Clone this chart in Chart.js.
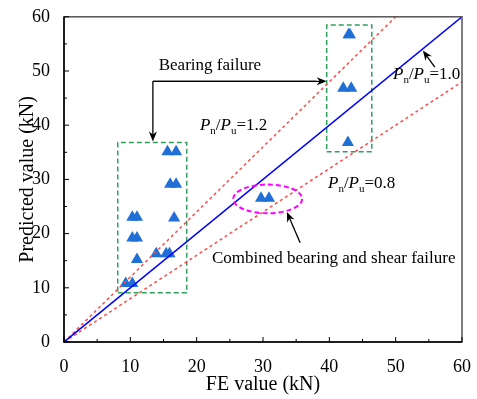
<!DOCTYPE html>
<html>
<head>
<meta charset="utf-8">
<script src="https://cdn.jsdelivr.net/npm/chart.js@4/dist/chart.umd.min.js"></script>
<style>
  html, body { margin: 0; padding: 0; background: #fff; }
</style>
</head>
<body>
<canvas id="chart" width="477" height="399"></canvas>
<script>
// FE value vs predicted value (kN)
const feValue = [9.3, 10.3, 11.0, 10.3, 11.0, 10.3, 11.0, 16.6, 13.9, 15.4, 15.9, 15.6, 16.9, 16.0, 16.9, 29.7, 30.9, 42.1, 43.3, 42.8, 42.9, 43.1];
const predicted = [10.8, 10.8, 15.2, 19.2, 19.2, 23.0, 23.0, 22.9, 16.3, 16.3, 16.3, 35.1, 35.1, 29.1, 29.1, 26.5, 26.5, 46.8, 46.8, 36.8, 56.7, 56.7];

const axisTicks = [0, 10, 20, 30, 40, 50, 60];
const ratioLines = [1.0, 1.2, 0.8];

// dashed boxes around the bearing failure groups [xMin, xMax, yMin, yMax]
const leftBox = [8.1, 18.5, 9.1, 36.8];
const rightBox = [39.6, 46.4, 35.1, 58.5];
// ellipse around the combined failure points [cx, cy, rx, ry]
const combinedEllipse = [30.7, 26.4, 5.2, 2.65];

const SERIF = '"Liberation Serif", "Times New Roman", serif';
const BLUE = "#0000ff";
const RED = "#ff4a4a";
const GREEN = "#2ea05c";

function ratioLine(k) {
  const xEnd = Math.min(60, 60 / k);
  return [{ x: 0, y: 0 }, { x: xEnd, y: xEnd * k }];
}

function boxPath(b) {
  return [
    { x: b[0], y: b[2] }, { x: b[1], y: b[2] }, { x: b[1], y: b[3] },
    { x: b[0], y: b[3] }, { x: b[0], y: b[2] },
  ];
}

const lineDs = (data, color, dash, width) => ({
  type: "line", data, borderColor: color, borderWidth: width, borderDash: dash,
  pointRadius: 0, fill: false, tension: 0,
});

// P_n/P_u = k label
function ratioLabel(ctx, x, y, value) {
  const big = "17px " + SERIF;
  const bigIt = "italic 17px " + SERIF;
  const small = "11px " + SERIF;
  ctx.textAlign = "left";
  ctx.textBaseline = "alphabetic";
  const parts = [
    [bigIt, "P", 0], [small, "n", 4], [big, "/", 0],
    [bigIt, "P", 0], [small, "u", 4], [big, "=" + value, 0],
  ];
  let cx = x;
  for (const [f, t, dy] of parts) {
    ctx.font = f;
    ctx.fillText(t, cx, y + dy);
    cx += ctx.measureText(t).width;
  }
}

function arrow(ctx, x1, y1, x2, y2) {
  const a = Math.atan2(y2 - y1, x2 - x1);
  const len = 10, half = 4;
  ctx.beginPath();
  ctx.moveTo(x1, y1);
  ctx.lineTo(x2 - Math.cos(a) * 6, y2 - Math.sin(a) * 6);
  ctx.stroke();
  ctx.beginPath();
  ctx.moveTo(x2, y2);
  ctx.lineTo(x2 - Math.cos(a) * len - Math.sin(a) * half, y2 - Math.sin(a) * len + Math.cos(a) * half);
  ctx.lineTo(x2 - Math.cos(a) * (len - 3), y2 - Math.sin(a) * (len - 3));
  ctx.lineTo(x2 - Math.cos(a) * len + Math.sin(a) * half, y2 - Math.sin(a) * len - Math.cos(a) * half);
  ctx.closePath();
  ctx.fill();
}

const frameAndNotes = {
  id: "frameAndNotes",
  afterDatasetsDraw(chart) {
    const { ctx, chartArea: a, scales } = chart;
    const px = (v) => scales.x.getPixelForValue(v);
    const py = (v) => scales.y.getPixelForValue(v);
    ctx.save();

    // ellipse
    ctx.strokeStyle = "#ff00ff";
    ctx.lineWidth = 2;
    ctx.setLineDash([5, 3]);
    ctx.beginPath();
    const [ecx, ecy, erx, ery] = combinedEllipse;
    ctx.ellipse(px(ecx), py(ecy), px(ecx + erx) - px(ecx), py(ecy) - py(ecy + ery), 0, 0, Math.PI * 2);
    ctx.stroke();
    ctx.setLineDash([]);

    // frame
    ctx.strokeStyle = "#555";
    ctx.lineWidth = 1.5;
    ctx.strokeRect(a.left, a.top, a.right - a.left, a.bottom - a.top);
    ctx.strokeStyle = "#000";
    ctx.beginPath();
    ctx.moveTo(a.left, a.top);
    ctx.lineTo(a.left, a.bottom);
    ctx.lineTo(a.right, a.bottom);
    ctx.stroke();

    // inward ticks, minor every 5
    ctx.lineWidth = 1;
    for (let v = 0; v <= 60; v += 5) {
      const len = v % 10 === 0 ? 5 : 3;
      ctx.beginPath();
      ctx.moveTo(px(v), a.bottom);
      ctx.lineTo(px(v), a.bottom - len);
      ctx.moveTo(a.left, py(v));
      ctx.lineTo(a.left + len, py(v));
      ctx.stroke();
    }

    // annotations
    ctx.fillStyle = "#000";
    ctx.strokeStyle = "#000";
    ctx.lineWidth = 1.3;
    ctx.font = "17px " + SERIF;
    ctx.textAlign = "center";
    ctx.textBaseline = "alphabetic";
    ctx.fillText("Bearing failure", px(22.0), py(50.1));
    ctx.beginPath();
    ctx.moveTo(px(13.4), py(48.1));
    ctx.lineTo(px(38.0), py(48.1));
    ctx.stroke();
    arrow(ctx, px(13.4), py(48.1), px(39.6), py(48.1));
    arrow(ctx, px(13.4), py(48.1), px(13.4), py(37.0));

    ctx.textAlign = "left";
    ctx.fillText("Combined bearing and shear failure", px(22.3), py(14.6));
    arrow(ctx, px(35.6), py(18.3), px(33.6), py(24.0));

    arrow(ctx, px(55.9), py(50.7), px(54.1), py(53.8));
    ratioLabel(ctx, px(49.6), py(48.5), "1.0");
    ratioLabel(ctx, px(20.5), py(39.1), "1.2");
    ratioLabel(ctx, px(39.8), py(28.4), "0.8");

    ctx.restore();
  },
};

const axisBase = (title) => ({
  type: "linear",
  min: 0,
  max: 60,
  grid: { display: false },
  border: { display: false },
  afterBuildTicks: (s) => { s.ticks = axisTicks.map((v) => ({ value: v })); },
  ticks: {
    color: "#000",
    padding: 6,
    font: { family: SERIF, size: 18 },
  },
  title: {
    display: true,
    text: title,
    color: "#000",
    font: { family: SERIF, size: 20 },
  },
});

const xAxis = axisBase("FE value (kN)");
xAxis.title.padding = { top: 0, bottom: 2 };
xAxis.afterFit = (s) => { s.height = 57; };
const yAxis = axisBase("Predicted value (kN)");
yAxis.title.padding = { top: 16, bottom: 0 };
yAxis.afterFit = (s) => { s.width = 64; };

new Chart(document.getElementById("chart"), {
  type: "scatter",
  data: {
    datasets: [
      lineDs(ratioLine(ratioLines[0]), BLUE, [], 1.6),
      lineDs(ratioLine(ratioLines[1]), RED, [3, 3], 1.5),
      lineDs(ratioLine(ratioLines[2]), RED, [3, 3], 1.5),
      lineDs(boxPath(leftBox), GREEN, [5, 3], 1.5),
      lineDs(boxPath(rightBox), GREEN, [5, 3], 1.5),
      {
        type: "scatter",
        data: feValue.map((x, i) => ({ x, y: predicted[i] })),
        pointStyle: "triangle",
        pointRadius: 7,
        backgroundColor: "#1f6fd6",
        borderColor: "#1f6fd6",
        borderWidth: 0,
      },
    ],
  },
  options: {
    responsive: false,
    animation: false,
    layout: { padding: { top: 14, right: 15, left: 0, bottom: 0 } },
    plugins: { legend: { display: false }, tooltip: { enabled: false } },
    scales: { x: xAxis, y: yAxis },
  },
  plugins: [frameAndNotes],
});
</script>
</body>
</html>
